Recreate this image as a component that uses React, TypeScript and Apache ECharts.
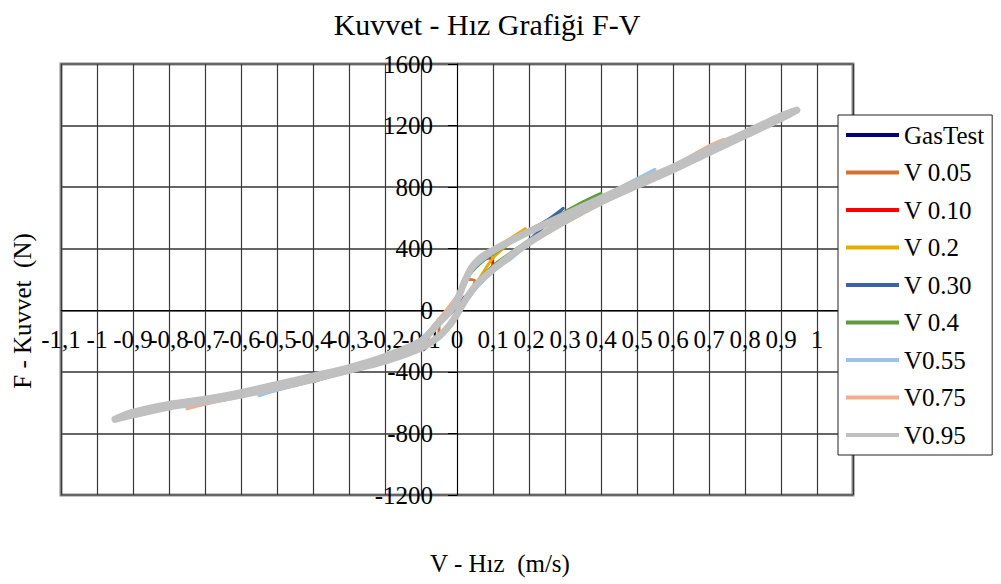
import React, { useEffect, useRef } from "react";
import * as echarts from "echarts";

const TITLE = "Kuvvet - Hız Grafiği F-V";
const X_TITLE = "V - Hız  (m/s)";
const Y_TITLE = "F - Kuvvet  (N)";

const seriesNames = ["GasTest", "V 0.05", "V 0.10", "V 0.2", "V 0.30", "V 0.4", "V0.55", "V0.75", "V0.95"];
const seriesColors = ["#00007f", "#d4722f", "#ff0000", "#e8ac00", "#3b63ad", "#5f9b3b", "#9cc2e8", "#f4ad8c", "#c0c0c0"];
const seriesWidths = [2, 3, 3, 3, 3, 3, 3, 3, 7];

// [velocity m/s, force N] loops
const gasTest = [[-0.02, -30], [0, 20], [0.02, 90]];
const v005 = [[-0.05, -175], [0, -30], [0.03, 90], [0.05, 190], [0.03, 200], [0, 60], [-0.05, -90], [-0.05, -175]];
const v010 = [[-0.095, -250], [-0.05, -175], [0, -30], [0.03, 100], [0.06, 185], [0.08, 235], [0.1, 300], [0.09, 340], [0.06, 310], [0.03, 240], [0, 80], [-0.05, -70], [-0.095, -235]];
const v02 = [[-0.17, -272], [-0.1, -235], [-0.05, -175], [0, -30], [0.03, 100], [0.06, 200], [0.1, 340], [0.15, 445], [0.19, 530], [0.15, 470], [0.1, 395], [0.06, 320], [0.03, 240], [0, 70], [-0.05, -70], [-0.1, -200], [-0.17, -272]];
const v030 = [[-0.3, -400], [-0.2, -332], [-0.1, -245], [-0.05, -175], [0, -30], [0.03, 90], [0.06, 190], [0.1, 280], [0.15, 365], [0.2, 455], [0.295, 662], [0.25, 585], [0.2, 520], [0.15, 450], [0.1, 380], [0.06, 300], [0.03, 220], [0, 60], [-0.05, -60], [-0.1, -190], [-0.2, -300], [-0.3, -400]];
const v04 = [[-0.4, -465], [-0.3, -392], [-0.2, -325], [-0.1, -240], [-0.05, -165], [0, -25], [0.03, 100], [0.06, 195], [0.1, 290], [0.15, 375], [0.2, 455], [0.3, 590], [0.4, 760], [0.35, 705], [0.3, 640], [0.2, 515], [0.1, 365], [0.06, 295], [0.03, 215], [0, 60], [-0.05, -60], [-0.1, -185], [-0.2, -295], [-0.3, -370], [-0.4, -465]];
const v055 = [[-0.55, -555], [-0.5, -520], [-0.4, -460], [-0.3, -400], [-0.2, -332], [-0.1, -248], [-0.05, -175], [0, -35], [0.03, 70], [0.06, 160], [0.1, 250], [0.15, 335], [0.2, 425], [0.3, 570], [0.4, 700], [0.5, 825], [0.55, 915], [0.5, 855], [0.4, 735], [0.3, 618], [0.2, 505], [0.1, 370], [0.05, 280], [0.02, 180], [0, 70], [-0.05, -65], [-0.1, -195], [-0.2, -302], [-0.3, -372], [-0.4, -428], [-0.5, -485], [-0.55, -555]];
const v075 = [[-0.75, -640], [-0.7, -610], [-0.6, -562], [-0.5, -510], [-0.4, -455], [-0.3, -395], [-0.2, -330], [-0.1, -250], [-0.05, -180], [0, -45], [0.02, 40], [0.05, 140], [0.1, 255], [0.15, 350], [0.2, 430], [0.3, 565], [0.4, 690], [0.5, 800], [0.6, 905], [0.7, 1020], [0.74, 1110], [0.7, 1068], [0.6, 940], [0.5, 835], [0.4, 728], [0.3, 615], [0.2, 505], [0.1, 380], [0.05, 300], [0.02, 210], [0, 95], [-0.05, -55], [-0.1, -190], [-0.2, -300], [-0.3, -370], [-0.4, -425], [-0.5, -480], [-0.6, -530], [-0.7, -575], [-0.75, -640]];
const v095 = [[-0.95, -708], [-0.9, -680], [-0.8, -628], [-0.7, -592], [-0.6, -550], [-0.5, -502], [-0.4, -448], [-0.3, -390], [-0.2, -330], [-0.1, -245], [-0.05, -170], [-0.02, -95], [0, -25], [0.02, 55], [0.04, 125], [0.06, 180], [0.08, 225], [0.1, 265], [0.14, 340], [0.2, 440], [0.3, 580], [0.4, 705], [0.5, 810], [0.6, 912], [0.7, 1025], [0.8, 1135], [0.9, 1245], [0.944, 1300], [0.9, 1262], [0.8, 1152], [0.7, 1045], [0.6, 930], [0.5, 832], [0.4, 728], [0.3, 620], [0.2, 510], [0.14, 440], [0.1, 390], [0.08, 365], [0.06, 330], [0.04, 275], [0.02, 180], [0, 65], [-0.02, -10], [-0.05, -80], [-0.1, -200], [-0.2, -300], [-0.3, -372], [-0.4, -428], [-0.5, -482], [-0.6, -535], [-0.7, -578], [-0.8, -612], [-0.9, -662], [-0.95, -708]];

const seriesData = [gasTest, v005, v010, v02, v030, v04, v055, v075, v095];

const X_MIN = -1.1, X_MAX = 1.1, X_STEP = 0.1;
const Y_MIN = -1200, Y_MAX = 1600, Y_STEP = 400;

const FONT = "Liberation Serif";

// plot box in pixels
const G_LEFT = 61, G_RIGHT = 148, G_TOP = 64, G_BOTTOM = 89;
const W = 1001, H = 584;

export default function App() {
  const ref = useRef<HTMLDivElement>(null);
  useEffect(() => {
    if (!ref.current) return;
    const chart = echarts.init(ref.current, null, { renderer: "svg" });
    const plotW = W - G_LEFT - G_RIGHT;
    const plotH = H - G_TOP - G_BOTTOM;
    // move the axes so they cross at zero
    const xOffset = -(plotH * (0 - Y_MIN) / (Y_MAX - Y_MIN));
    const yOffset = -(plotW * (0 - X_MIN) / (X_MAX - X_MIN));
    chart.setOption({
      animation: false,
      backgroundColor: "#ffffff",
      textStyle: { fontFamily: FONT },
      title: {
        text: TITLE,
        left: 482,
        top: 4,
        textAlign: "center",
        textStyle: { fontFamily: FONT, fontSize: 30, fontWeight: "normal", color: "#000" },
      },
      grid: {
        left: G_LEFT, right: G_RIGHT, top: G_TOP, bottom: G_BOTTOM,
        containLabel: false, outerBoundsMode: "none",
        show: true, borderColor: "#8a8a8a", borderWidth: 3, backgroundColor: "transparent",
      },
      legend: {
        orient: "vertical",
        left: 838, top: 115,
        padding: [6, 8, 6, 8],
        backgroundColor: "#fff",
        borderColor: "#222", borderWidth: 1,
        itemWidth: 53, itemHeight: 4, itemGap: 9.5,
        icon: "rect",
        textStyle: { fontFamily: FONT, fontSize: 25, fontWeight: "normal", color: "#000", lineHeight: 28 },
        data: seriesNames,
      },
      xAxis: {
        type: "value", min: X_MIN, max: X_MAX, interval: X_STEP,
        position: "bottom", offset: xOffset,
        axisLine: { onZero: false, lineStyle: { color: "#000", width: 1 } },
        axisTick: { show: false },
        axisLabel: {
          showMinLabel: true, showMaxLabel: true, hideOverlap: false, margin: 17,
          fontFamily: FONT, fontSize: 25, fontWeight: "normal", color: "#000",
          formatter: (v: number) => String(Math.round(v * 10) / 10).replace(".", ","),
        },
        splitLine: { show: true, lineStyle: { color: "#3a3a3a", width: 1.2 } },
      },
      yAxis: {
        type: "value", min: Y_MIN, max: Y_MAX, interval: Y_STEP,
        position: "left", offset: yOffset,
        axisLine: { onZero: false, lineStyle: { color: "#000", width: 1 } },
        axisTick: { show: true, length: 9, lineStyle: { color: "#000" } },
        axisLabel: {
          margin: 24, fontFamily: FONT, fontSize: 25, fontWeight: "normal", color: "#000",
          showMinLabel: true, showMaxLabel: true, hideOverlap: false,
          formatter: (v: number) => String(v),
        },
        splitLine: { show: true, lineStyle: { color: "#666", width: 2 } },
      },
      graphic: [
        {
          type: "text", x: 22, y: 311, rotation: Math.PI / 2,
          style: { text: Y_TITLE, fontFamily: FONT, fontSize: 25, fontWeight: "normal", fill: "#000", align: "center", verticalAlign: "middle" },
        },
        {
          type: "text", x: 500, y: 563,
          style: { text: X_TITLE, fontFamily: FONT, fontSize: 25, fontWeight: "normal", fill: "#000", align: "center", verticalAlign: "middle" },
        },
      ],
      series: seriesNames.map((name, i) => ({
        name,
        type: "line",
        data: seriesData[i],
        symbol: "none",
        smooth: 0.3,
        color: seriesColors[i],
        lineStyle: { color: seriesColors[i], width: seriesWidths[i], cap: "round", join: "round" },
        z: 2 + i,
      })),
    });
    return () => chart.dispose();
  }, []);
  return <div ref={ref} style={{ position: "fixed", left: 0, top: 0, width: W, height: H }} />;
}
